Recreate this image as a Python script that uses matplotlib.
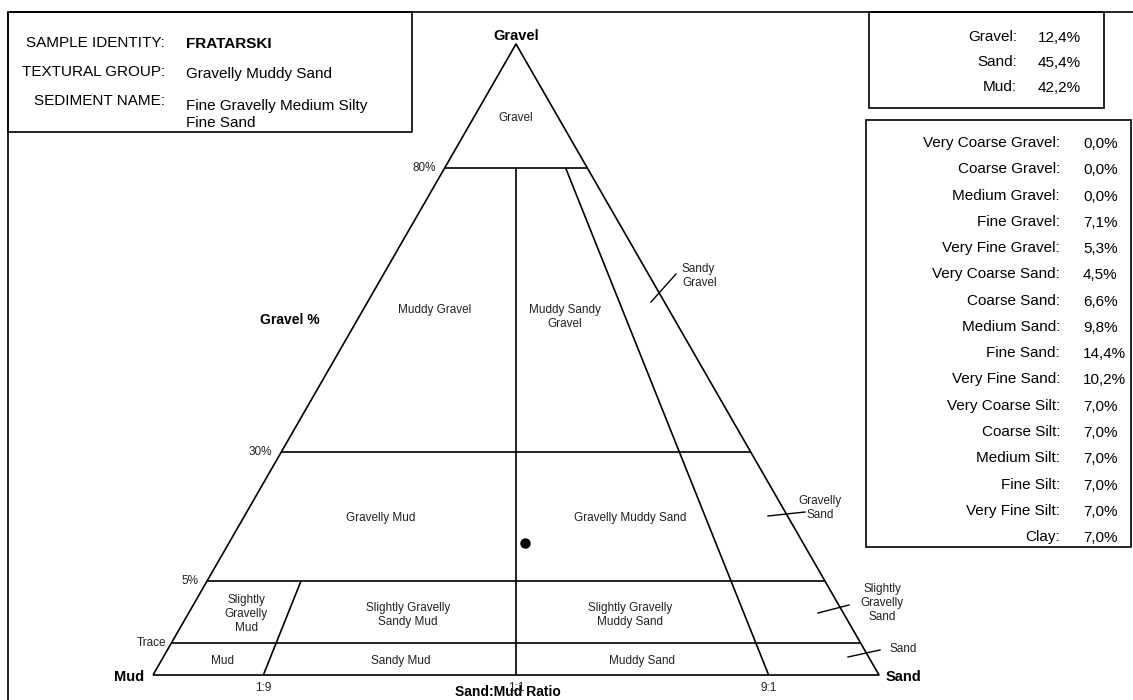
import numpy as np
import matplotlib
matplotlib.use('Agg')
import matplotlib.pyplot as plt
from matplotlib.patches import Rectangle

plt.rcParams['font.family'] = ['Liberation Sans', 'DejaVu Sans']

W, H = 1133, 700

# ---------------- data ----------------
sample_identity = "FRATARSKI"
textural_group = "Gravelly Muddy Sand"
sediment_name = ["Fine Gravelly Medium Silty", "Fine Sand"]

major_labels = ["Gravel:", "Sand:", "Mud:"]
major_values = [12.4, 45.4, 42.2]

fraction_labels = ["Very Coarse Gravel:", "Coarse Gravel:", "Medium Gravel:", "Fine Gravel:",
                   "Very Fine Gravel:", "Very Coarse Sand:", "Coarse Sand:", "Medium Sand:",
                   "Fine Sand:", "Very Fine Sand:", "Very Coarse Silt:", "Coarse Silt:",
                   "Medium Silt:", "Fine Silt:", "Very Fine Silt:", "Clay:"]
fraction_values = [0.0, 0.0, 0.0, 7.1, 5.3, 4.5, 6.6, 9.8, 14.4, 10.2,
                   7.0, 7.0, 7.0, 7.0, 7.0, 7.0]

# Folk class limits (gravel %) and the diagram's (non-linear) scale positions
gravel_limits = [0.0, 0.01, 5.0, 30.0, 80.0, 100.0]
gravel_scale = [0.0, 0.0507, 0.149, 0.3534, 0.8035, 1.0]
gravel_line_values = [0.01, 5.0, 30.0, 80.0]
gravel_line_labels = ["Trace", "5%", "30%", "80%"]

# sand/(sand+mud) ratio limits and scale positions along the base
ratio_limits = [0.0, 0.1, 0.5, 0.9, 1.0]
ratio_scale = [0.0, 0.152, 0.5, 0.848, 1.0]
ratio_line_values = [0.1, 0.5, 0.9]
ratio_line_tops = [5.0, 80.0, 80.0]
ratio_line_labels = ["1:9", "1:1", "9:1"]


def gv(g):
    return np.interp(g, gravel_limits, gravel_scale)


def ru(r):
    return np.interp(r, ratio_limits, ratio_scale)


def tern(u, v):
    u = np.asarray(u, float)
    v = np.asarray(v, float)
    return 0.5 + (u - 0.5) * (1 - v), v


fmt = lambda x: f"{x:.1f}%".replace('.', ',')

fig = plt.figure(figsize=(W / 100, H / 100), dpi=100)

# background axes in pixel coordinates for boxes/labels
bg = fig.add_axes([0, 0, 1, 1])
bg.set_xlim(0, W)
bg.set_ylim(H, 0)
bg.axis('off')

LW = 1.2
FS = 11
SFS = 8.5
TXT = '#222222'

# outer frame
bg.plot([8, 8], [12, H], color='black', lw=LW, solid_capstyle='butt')
bg.plot([8, W], [12, 12], color='black', lw=LW, solid_capstyle='butt')
# boxes
for (x0, y0, x1, y1) in [(8, 12, 412, 132), (869, 12, 1104, 108), (866, 120, 1131, 547)]:
    bg.add_patch(Rectangle((x0, y0), x1 - x0, y1 - y0, fill=False, ec='black', lw=LW))

# left info box
bg.text(165, 43, "SAMPLE IDENTITY:", ha='right', va='center', fontsize=FS)
bg.text(165, 72, "TEXTURAL GROUP:", ha='right', va='center', fontsize=FS)
bg.text(165, 101, "SEDIMENT NAME:", ha='right', va='center', fontsize=FS)
bg.text(186, 44, sample_identity, ha='left', va='center', fontsize=FS, fontweight='bold')
bg.text(186, 74, textural_group, ha='left', va='center', fontsize=FS)
for i, line in enumerate(sediment_name):
    bg.text(186, 106 + 17 * i, line, ha='left', va='center', fontsize=FS)

# major fractions box
for i, (lab, val) in enumerate(zip(major_labels, major_values)):
    y = 37 + 25 * i
    bg.text(1017, y, lab, ha='right', va='center', fontsize=FS)
    bg.text(1038, y + 1, fmt(val), ha='left', va='center', fontsize=FS)

# size fractions box
for i, (lab, val) in enumerate(zip(fraction_labels, fraction_values)):
    y = 143 + 26.27 * i
    bg.text(1060, y, lab, ha='right', va='center', fontsize=FS)
    bg.text(1083, y + 1, fmt(val), ha='left', va='center', fontsize=FS)

# ---------------- ternary diagram ----------------
ax = fig.add_axes([153 / W, (H - 675) / H, 726 / W, 631 / H])
ax.set_xlim(0, 1)
ax.set_ylim(0, 1)
ax.axis('off')
ax.patch.set_alpha(0)

lk = dict(color='black', lw=LW, clip_on=False, solid_capstyle='butt')
# outline
x, y = tern([0, 0.5, 1, 0], [0, 1, 0, 0])
ax.plot(x, y, **lk)
# gravel class lines
for g, lab in zip(gravel_line_values, gravel_line_labels):
    v = gv(g)
    x, y = tern([0, 1], [v, v])
    ax.plot(x, y, **lk)
    off = -5 if lab == "Trace" else -9
    ax.annotate(lab, xy=(x[0], y[0]), xytext=(off, 0), textcoords='offset pixels',
                ha='right', va='center', fontsize=SFS, color=TXT)
# ratio lines
for r, gt, lab in zip(ratio_line_values, ratio_line_tops, ratio_line_labels):
    u = ru(r)
    x, y = tern([u, u], [0, gv(gt)])
    ax.plot(x, y, **lk)
    ax.annotate(lab, xy=(x[0], 0), xytext=(0, -13), textcoords='offset pixels',
                ha='center', va='center', fontsize=SFS, color=TXT)

# sample point
g, s, m = major_values
px, py = tern(ru(s / (s + m)), gv(g))
ax.plot([px], [py], 'o', color='black', ms=6.5, clip_on=False, zorder=5)

# corner / axis labels
bg.text(516, 36, "Gravel", ha='center', va='center', fontsize=10.5, fontweight='bold')
bg.text(144, 677, "Mud", ha='right', va='center', fontsize=10.5, fontweight='bold')
bg.text(886, 677, "Sand", ha='left', va='center', fontsize=10.5, fontweight='bold')
bg.text(508, 692, "Sand:Mud Ratio", ha='center', va='center', fontsize=10, fontweight='bold')
bg.text(290, 320, "Gravel %", ha='center', va='center', fontsize=10, fontweight='bold')

# region labels
regions = [
    ("Gravel", 516, 118, 'center'),
    ("Muddy Gravel", 435, 310, 'center'),
    ("Muddy Sandy\nGravel", 565, 317, 'center'),
    ("Sandy\nGravel", 682, 276, 'left'),
    ("Gravelly Mud", 381, 518, 'center'),
    ("Gravelly Muddy Sand", 630, 518, 'center'),
    ("Gravelly\nSand", 820, 508, 'center'),
    ("Slightly\nGravelly\nMud", 246, 614, 'center'),
    ("Slightly Gravelly\nSandy Mud", 408, 615, 'center'),
    ("Slightly Gravelly\nMuddy Sand", 630, 615, 'center'),
    ("Slightly\nGravelly\nSand", 882, 603, 'center'),
    ("Mud", 223, 661, 'center'),
    ("Sandy Mud", 401, 661, 'center'),
    ("Muddy Sand", 642, 661, 'center'),
    ("Sand", 890, 649, 'left'),
]
for txt, tx, ty, ha in regions:
    bg.text(tx, ty, txt, ha=ha, va='center', fontsize=SFS, color=TXT,
            multialignment='center' if ha == 'center' else 'left', linespacing=1.22)

# leader ticks for edge classes
for (x0, y0, x1, y1) in [(651, 302, 676, 274), (768, 516, 805, 512),
                         (818, 613, 849, 605), (848, 657, 880, 650)]:
    bg.plot([x0, x1], [y0, y1], color='black', lw=1.0)

fig.savefig('out.png', dpi=100)
